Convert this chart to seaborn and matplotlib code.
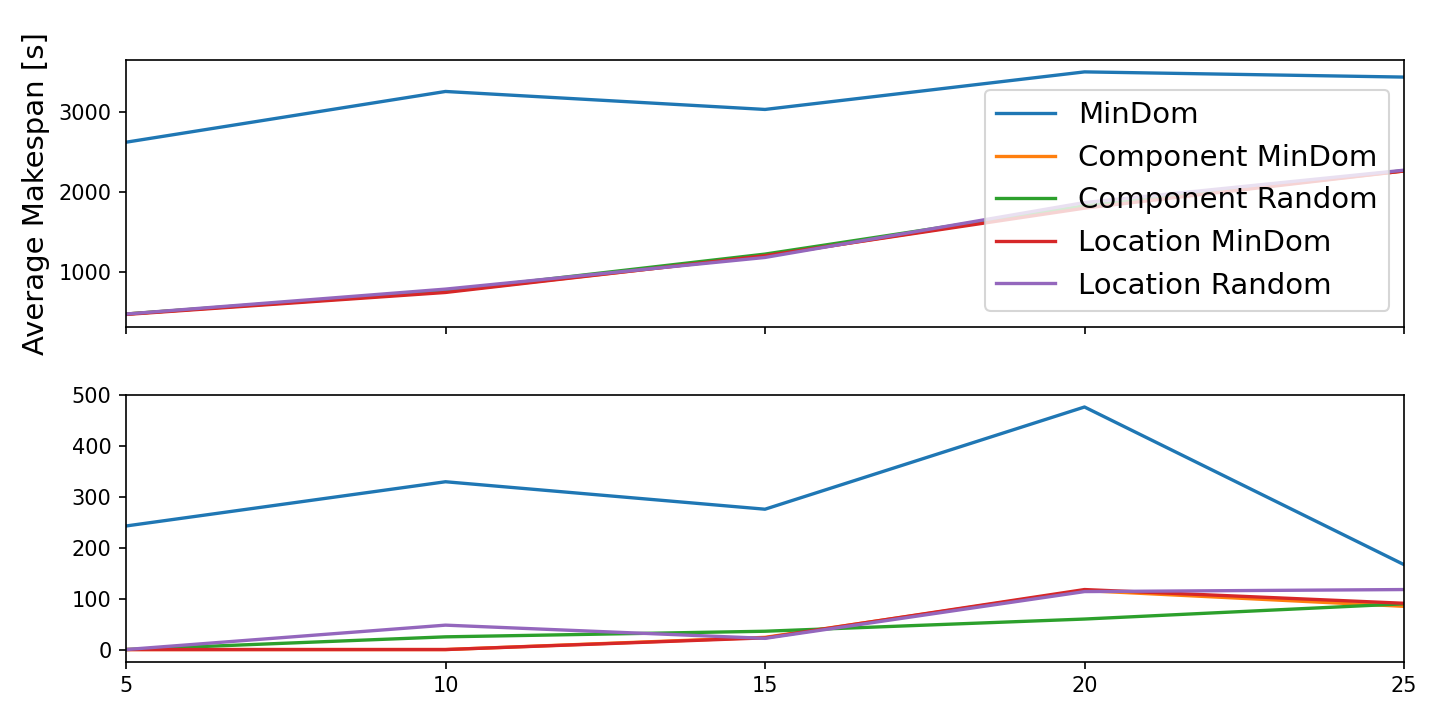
import pandas as pd
import matplotlib
matplotlib.use("Agg")
import matplotlib.pyplot as plt
import seaborn as sns

sizes = [5, 10, 15, 20, 25]
methods = ["MinDom", "Component MinDom", "Component Random", "Location MinDom", "Location Random"]

# top panel: average makespan
makespan = {
    "MinDom": [2625, 3260, 3035, 3505, 3440],
    "Component MinDom": [475, 755, 1200, 1820, 2265],
    "Component Random": [475, 765, 1225, 1830, 2270],
    "Location MinDom": [470, 745, 1205, 1800, 2265],
    "Location Random": [475, 787, 1183, 1870, 2275],
}

# bottom panel
spread = {
    "MinDom": [243, 330, 276, 477, 167],
    "Component MinDom": [0, 0, 24, 116, 85],
    "Component Random": [0, 25, 36, 60, 90],
    "Location MinDom": [0, 0, 23, 118, 91],
    "Location Random": [0, 48, 22, 114, 118],
}


def to_long(d):
    rows = []
    for m in methods:
        for s, v in zip(sizes, d[m]):
            rows.append({"size": s, "value": v, "method": m})
    return pd.DataFrame(rows)


top_df = to_long(makespan)
bot_df = to_long(spread)

fig, (ax1, ax2) = plt.subplots(2, 1, figsize=(9.6, 4.8), dpi=150, sharex=True)
fig.subplots_adjust(left=0.0875, right=0.975, top=0.917, bottom=0.081, hspace=0.256)

sns.lineplot(data=top_df, x="size", y="value", hue="method", hue_order=methods,
             palette="tab10", ax=ax1, linewidth=1.6)
sns.lineplot(data=bot_df, x="size", y="value", hue="method", hue_order=methods,
             palette="tab10", ax=ax2, linewidth=1.6, legend=False)

ax1.set_xlim(5, 25)
ax1.set_xticks(sizes)
ax1.set_ylabel("Average Makespan [s]", fontsize=14)
ax1.set_xlabel("Problem Size [-]", fontsize=14)
ax1.xaxis.set_label_coords(0.5, -0.04)
ax1.legend(loc="center right", bbox_to_anchor=(1, 0.473), fontsize=14)
ax2.set_xlabel("")
ax2.set_ylabel("")

fig.savefig("out.png", dpi=150)
